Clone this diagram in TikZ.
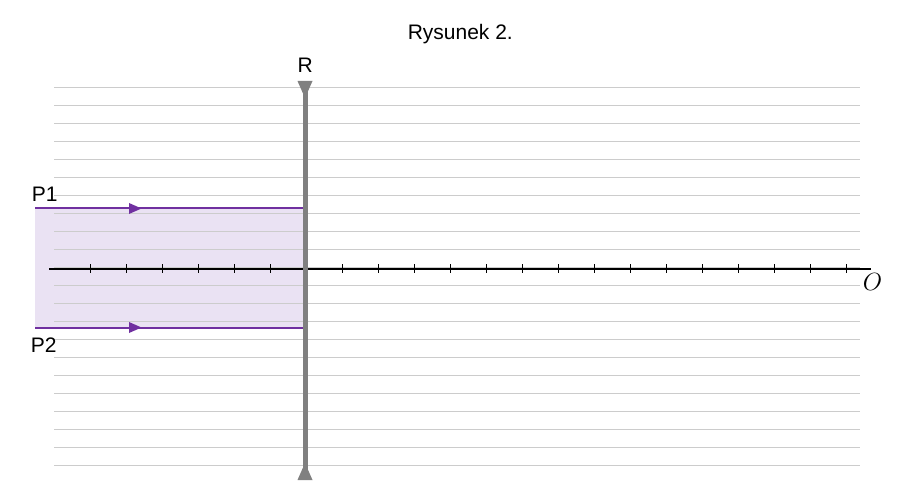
\documentclass[tikz,border=0pt]{standalone}
\usepackage{fontspec}
\setmainfont{Liberation Sans}
\definecolor{raycol}{RGB}{112,48,160}
\definecolor{bandcol}{RGB}{234,226,243}
\definecolor{gridcol}{RGB}{204,204,204}
\definecolor{rodcol}{RGB}{128,128,128}
\begin{document}
\begin{tikzpicture}[x=1pt,y=-1pt,
  gridline/.style={draw=gridcol,line width=1pt},
  axisline/.style={draw=black,line width=1.3pt},
  tickline/.style={draw=black,line width=1.2pt},
  rodline/.style={draw=rodcol,line width=5pt},
  rayline/.style={draw=raycol,line width=2pt},
  lbl/.style={inner sep=0pt,font=\fontsize{21}{24}\selectfont}]
\useasboundingbox[fill=white] (0,0) rectangle (924,497);
% band between rays
\fill[bandcol] (35,208.5) rectangle (305,327.5);
% grid lines
\foreach \k in {0,...,21}
  \draw[gridline] (54,{87.3+18*\k}) -- (860,{87.3+18*\k});
% axis
\coordinate (axL) at (49,269);
\coordinate (axR) at (871,269);
\draw[axisline] (axL) -- (axR);
\foreach \i in {0,...,21}
  \draw[tickline] ({90.7+36*\i},264.5) -- ++(0,9);
% rays
\coordinate (p1s) at (35,208.5);
\coordinate (p1e) at (305,208.5);
\coordinate (p2s) at (35,327.5);
\coordinate (p2e) at (305,327.5);
\draw[rayline] (p1s) -- (p1e);
\draw[rayline] (p2s) -- (p2e);
\fill[raycol] (129,203) -- (141.5,208.5) -- (129,214) -- cycle;
\fill[raycol] (129,322) -- (141.5,327.5) -- (129,333) -- cycle;
% rod
\coordinate (rodT) at (305,84);
\coordinate (rodB) at (305,477);
\draw[rodline] (rodT) -- (rodB);
\fill[rodcol] (297.5,81) -- (312.5,81) -- (305,98) -- cycle;
\fill[rodcol] (297.5,480) -- (312.5,480) -- (305,463) -- cycle;
% labels
\node[lbl,anchor=base] (title) at (460.3,39.3) {Rysunek 2.};
\node[lbl,anchor=base] (rlab) at (305.3,72.5) {R};
\node[lbl,anchor=base west] (p1lab) at (31.6,201.7) {P1};
\node[lbl,anchor=base west] (p2lab) at (30.6,352.5) {P2};
\node[inner sep=0pt,font=\fontsize{24}{28}\selectfont] (olab) at (872.5,281.5) {$O$};
\end{tikzpicture}
\end{document}
